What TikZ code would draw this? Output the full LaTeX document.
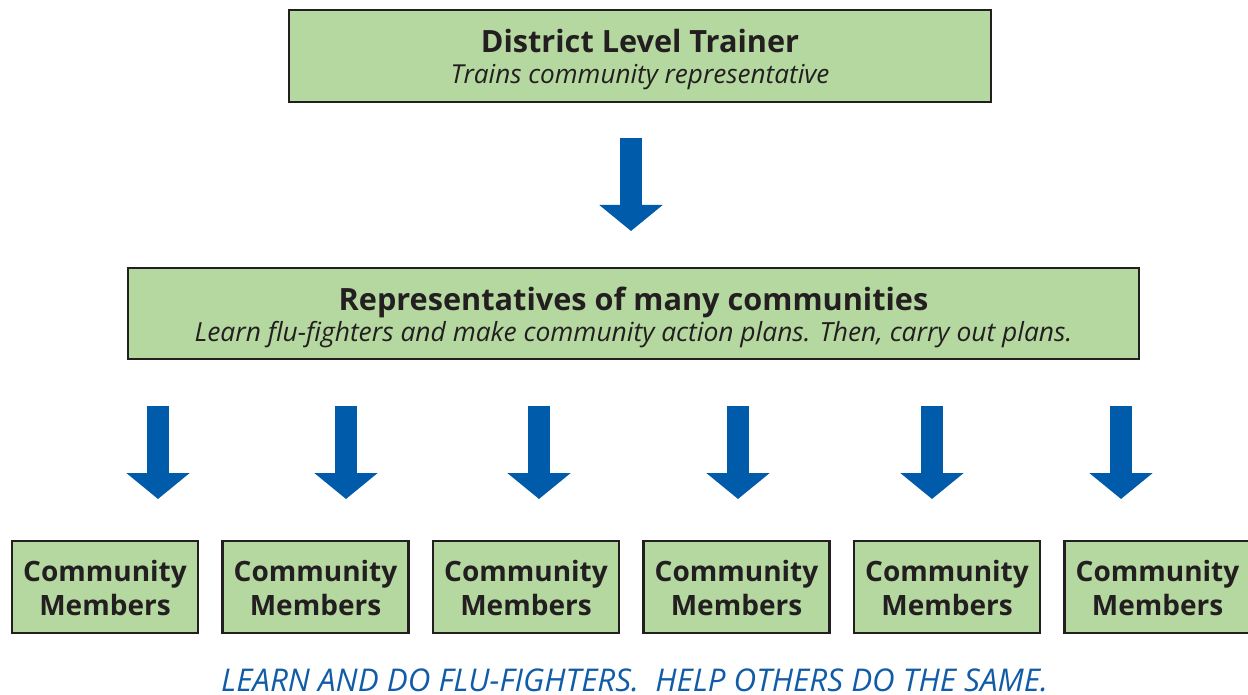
\documentclass[tikz,border=0pt]{standalone}
\usepackage{fontspec}
\setmainfont{Open Sans}
\usetikzlibrary{arrows.meta}
\definecolor{boxgreen}{RGB}{180,216,160}
\definecolor{boxline}{RGB}{35,31,32}
\definecolor{arrowblue}{RGB}{0,91,170}
\definecolor{textblue}{RGB}{16,92,168}
\tikzset{
  box/.style={draw=boxline, fill=boxgreen, line width=2.2pt, inner sep=0pt, anchor=center},
  txt/.style={anchor=base, inner sep=0pt, text=boxline},
  bigarrow/.style={draw=arrowblue, line width=16.5pt, -{Triangle[width=46.5pt,length=19.5pt]}},
}
\begin{document}
\begin{tikzpicture}[x=0.75pt,y=-0.75pt]
\useasboundingbox[fill=white] (0,0) rectangle (1248,695);
% top box
\node[box, minimum width=702*0.75pt, minimum height=92*0.75pt] (top) at (640,56) {};
\node[txt, font=\fontsize{23}{27}\selectfont\bfseries] (toptitle) at (640,53) {District Level Trainer};
\node[txt, font=\fontsize{19.6}{23}\selectfont\itshape] (topsub) at (640,84) {Trains community representative};
% middle box
\node[box, minimum width=1011*0.75pt, minimum height=91*0.75pt] (mid) at (633.5,313.5) {};
\node[txt, font=\fontsize{23}{27}\selectfont\bfseries] (midtitle) at (633.5,310) {Representatives of many communities};
\node[txt, font=\fontsize{19.8}{23}\selectfont\itshape] (midsub) at (633.5,341) {Learn flu-fighters and make community action plans. Then, carry out plans.};
% top arrow
\coordinate (a0s) at (631,138);
\coordinate (a0e) at (631,231);
\draw[bigarrow] (a0s) -- (a0e);
% small arrows and bottom boxes
\foreach \i/\ax/\bx in {1/158/105, 2/346/315.5, 3/539/526, 4/738/736.5, 5/932/947, 6/1121/1157.5} {
  \coordinate (a\i s) at (\ax,406);
  \coordinate (a\i e) at (\ax,499);
  \draw[bigarrow] (a\i s) -- (a\i e);
  \node[box, minimum width=186*0.75pt, minimum height=92*0.75pt] (cm\i) at (\bx,587) {};
  \node[txt, font=\fontsize{21}{25}\selectfont\bfseries] (cmA\i) at (\bx,581.5) {Community};
  \node[txt, font=\fontsize{21}{25}\selectfont\bfseries] (cmB\i) at (\bx,615) {Members};
}
% bottom text
\node[txt, text=textblue, font=\fontsize{23.5}{27}\selectfont\itshape] (motto) at (634.5,691.5) {LEARN AND DO FLU-FIGHTERS.\ \ HELP OTHERS DO THE SAME.};
\end{tikzpicture}
\end{document}
